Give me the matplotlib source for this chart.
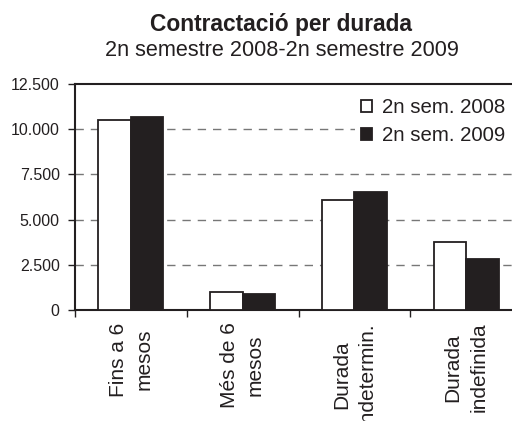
import matplotlib
matplotlib.use("Agg")
import matplotlib.pyplot as plt
from matplotlib.ticker import FuncFormatter, FixedLocator
import numpy as np

plt.rcParams['font.family'] = ['Liberation Sans', 'DejaVu Sans']

categories = ["Fins a 6\nmesos", "Més de 6\nmesos", "Durada\nindetermin.", "Durada\nindefinida"]
sem_2008 = [10500, 1010, 6080, 3780]
sem_2009 = [10650, 880, 6540, 2800]
series_labels = ["2n sem. 2008", "2n sem. 2009"]
yticks = [0, 2500, 5000, 7500, 10000, 12500]

fig = plt.figure(figsize=(5.12, 4.21), dpi=100)
ax = fig.add_axes([75 / 512, 1 - 310 / 421, 447 / 512, 226 / 421])

x = np.arange(len(categories))
w = 0.29
ax.bar(x - w / 2, sem_2008, w, color="white", edgecolor="#231f20", linewidth=1.3,
       label=series_labels[0], zorder=3)
ax.bar(x + w / 2, sem_2009, w, color="#231f20", edgecolor="#231f20", linewidth=1.3,
       label=series_labels[1], zorder=3)

ax.set_xlim(-0.5, len(categories) - 0.5)
ax.set_ylim(0, 12500)
ax.set_yticks(yticks)
ax.yaxis.set_major_formatter(FuncFormatter(lambda v, p: f"{int(v):,}".replace(",", ".")))

# ticks at category boundaries, labels at centres
ax.xaxis.set_major_locator(FixedLocator(x - 0.5))
ax.xaxis.set_major_formatter(FuncFormatter(lambda v, p: ""))
ax.set_xticks(x, minor=True)
ax.set_xticklabels(categories, minor=True, rotation=90, fontsize=15,
                   ha="center", va="top", multialignment="center",
                   linespacing=1.45, color="#231f20")
ax.tick_params(axis="x", which="minor", length=0, pad=9)
ax.tick_params(axis="x", which="major", length=5, width=1, direction="out", color="#231f20")
ax.tick_params(axis="y", length=5, width=1, direction="out", labelsize=11.5,
               pad=6, colors="#231f20")

for yv in yticks[1:-1]:
    ax.axhline(yv, color="#777777", linestyle=(0, (6, 5)), linewidth=1, zorder=1)

for s in ["left", "bottom", "top"]:
    ax.spines[s].set_color("#231f20")
    ax.spines[s].set_linewidth(1.5)
ax.spines["right"].set_visible(False)

leg = fig.legend(loc="upper left", bbox_to_anchor=(355 / 512, 1 - 92 / 421),
                 bbox_transform=fig.transFigure, fontsize=14.7, frameon=True,
                 handlelength=0.55, handleheight=0.55, handletextpad=0.48,
                 labelspacing=0.45, borderpad=0.3, borderaxespad=0)
leg.get_frame().set_facecolor("white")
leg.get_frame().set_edgecolor("none")
leg.get_frame().set_alpha(1)
for t in leg.get_texts():
    t.set_color("#231f20")

fig.text(281.5 / 512, 1 - 30.5 / 421, "Contractació per durada", ha="center", va="baseline",
         fontsize=16.4, fontweight="bold", color="#231f20")
fig.text(281.5 / 512, 1 - 55.5 / 421, "2n semestre 2008-2n semestre 2009", ha="center",
         va="baseline", fontsize=15.6, color="#231f20")

fig.savefig("out.png", dpi=100)
